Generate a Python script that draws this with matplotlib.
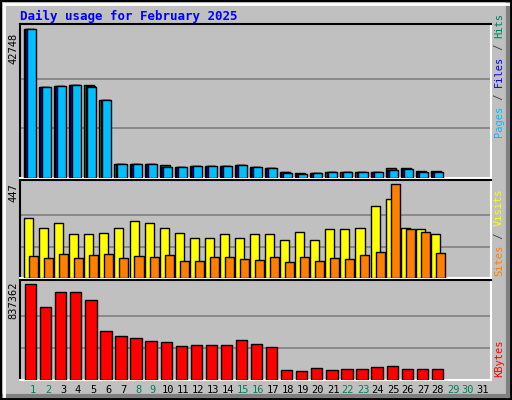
import matplotlib
matplotlib.use("Agg")
import matplotlib.pyplot as plt
from matplotlib.patches import Rectangle

days = list(range(1, 32))
ndata = 28
hits = [42748, 26170, 26460, 26750, 26750, 22390, 4070, 4070, 4070, 3780, 3200, 3490, 3490, 3490,
        3780, 3200, 2910, 1745, 1450, 1450, 1745, 1745, 1745, 1745, 2910, 2910, 2030, 2030]
files = [42748, 26170, 26460, 26750, 26460, 22390, 4070, 4070, 4070, 3200, 3200, 3490, 3490, 3490,
         3780, 3200, 2910, 1745, 1160, 1450, 1745, 1745, 1745, 1745, 2300, 2620, 1745, 1745]
pages = [42748, 26170, 26460, 26750, 26170, 22390, 4070, 4070, 4070, 3200, 3200, 3490, 3490, 3490,
         3780, 3200, 2910, 1450, 1160, 1450, 1745, 1745, 1745, 1745, 2300, 2620, 1745, 1745]
visits = [284, 240, 260, 211, 211, 216, 240, 269, 264, 240, 216, 192, 192, 211,
          192, 207, 211, 183, 221, 183, 231, 231, 240, 341, 375, 240, 235, 207]
sites = [106, 96, 115, 96, 111, 115, 96, 106, 101, 111, 82, 82, 101, 101,
         91, 87, 101, 77, 101, 82, 96, 91, 111, 125, 447, 235, 221, 120]
kbytes = [837362, 641400, 766100, 766100, 694800, 427600, 383000, 365200, 338500, 329600, 294000,
          302900, 302900, 302900, 347400, 311800, 285100, 89100, 80200, 106900, 89100, 98000,
          98000, 115800, 124700, 98000, 98000, 98000]
weekend = [1, 2, 8, 9, 15, 16, 22, 23, 29, 30]

W, H = 512, 400
bg = "#c0c0c0"
fig = plt.figure(figsize=(W / 100, H / 100), dpi=100, facecolor=bg)

def px_axes(x0, y0, x1, y1):
    return fig.add_axes([x0 / W, 1 - y1 / H, (x1 - x0) / W, (y1 - y0) / H])

x = days[:ndata]
xlim = (1 + (21 - 33) / 15, 1 + (490 - 33) / 15)

def style(ax, ymax, toppx, botpx, y0, y1):
    ax.set_facecolor(bg)
    ax.set_xlim(*xlim)
    # map data range so max sits at toppx
    frac = (botpx - toppx) / (y1 - y0)
    ax.set_ylim(-ymax * (y1 - botpx) / (botpx - toppx), ymax / frac * 1 - ymax * (y1 - botpx) / (botpx - toppx) * 0 + 0)
    ax.set_ylim(0, ymax * (y1 - y0) / (botpx - toppx))
    for g in (1 / 3, 2 / 3):
        ax.axhline(ymax * g, color="#808080", lw=1.2, zorder=0)
    ax.set_xticks([]); ax.set_yticks([])
    for s in ax.spines.values():
        s.set_color("white"); s.set_linewidth(1.5)
    ax.spines["top"].set_color("black"); ax.spines["left"].set_color("black")

def bars(ax, xs, vals, off, w, color):
    ax.bar([d + off for d in xs], vals, width=w, align="edge", color=color,
           edgecolor="black", linewidth=1, zorder=3)

# top panel
ax1 = px_axes(20, 24, 491, 178)
style(ax1, max(hits), 29, 176, 24, 176)
bars(ax1, x, hits, -0.53, 0.67, "#00805c")
bars(ax1, x, files, -0.45, 0.6, "#0000ff")
bars(ax1, x, pages, -0.33, 0.6, "#00bfff")

# middle panel
ax2 = px_axes(20, 180, 491, 278)
style(ax2, max(sites), 184, 277, 180, 277)
bars(ax2, x, visits, -0.53, 0.6, "#ffff00")
bars(ax2, x, sites, -0.2, 0.6, "#ff8000")

# bottom panel
ax3 = px_axes(20, 280, 491, 380)
style(ax3, max(kbytes), 284, 378, 280, 378)
bars(ax3, x, kbytes, -0.47, 0.75, "#ff0000")

mono = "DejaVu Sans Mono"
fig.text(20 / W, 1 - 16 / H, "Daily usage for February 2025", color="#0000ff",
         fontsize=9, fontweight="bold", family=mono, va="center")
for txt, yp in (("42748", 48), ("447", 193), ("837362", 300)):
    fig.text(13 / W, 1 - yp / H, txt, rotation=90, fontsize=7.5, family=mono,
             ha="center", va="center")

for d in days:
    fig.text((33 + (d - 1) * 15) / W, 1 - 390 / H, str(d), fontsize=7.5, family=mono,
             ha="center", va="center", color="#00805c" if d in weekend else "black")

def side(parts, ybot):
    y = ybot
    for txt, col in parts:
        t = fig.text(499 / W, 1 - y / H, txt, rotation=90, fontsize=7.5, family=mono,
                     color=col, ha="center", va="bottom")
        y -= len(txt) * 6.2
side([("Pages", "#00bfff"), (" / ", "#404040"), ("Files", "#0000ff"), (" / ", "#404040"),
      ("Hits", "#00805c")], 137)
side([("Sites", "#ff8000"), (" / ", "#404040"), ("Visits", "#ffff00")], 276)
side([("KBytes", "#ff0000")], 377)

# outer 3d border
fig.patches.append(Rectangle((1 / W, 1 / H), 1 - 2 / W, 1 - 2 / H, transform=fig.transFigure,
                             fill=False, edgecolor="black", lw=1.5))
fig.lines.append(plt.Line2D([4 / W, 1 - 4 / W], [4 / H, 4 / H], transform=fig.transFigure, color="#808080", lw=3))
fig.lines.append(plt.Line2D([1 - 4 / W, 1 - 4 / W], [4 / H, 1 - 4 / H], transform=fig.transFigure, color="#808080", lw=3))
fig.lines.append(plt.Line2D([4 / W, 1 - 4 / W], [1 - 4 / H, 1 - 4 / H], transform=fig.transFigure, color="white", lw=2))
fig.lines.append(plt.Line2D([4 / W, 4 / W], [4 / H, 1 - 4 / H], transform=fig.transFigure, color="white", lw=2))

fig.savefig("out.png", dpi=100, facecolor=bg)
